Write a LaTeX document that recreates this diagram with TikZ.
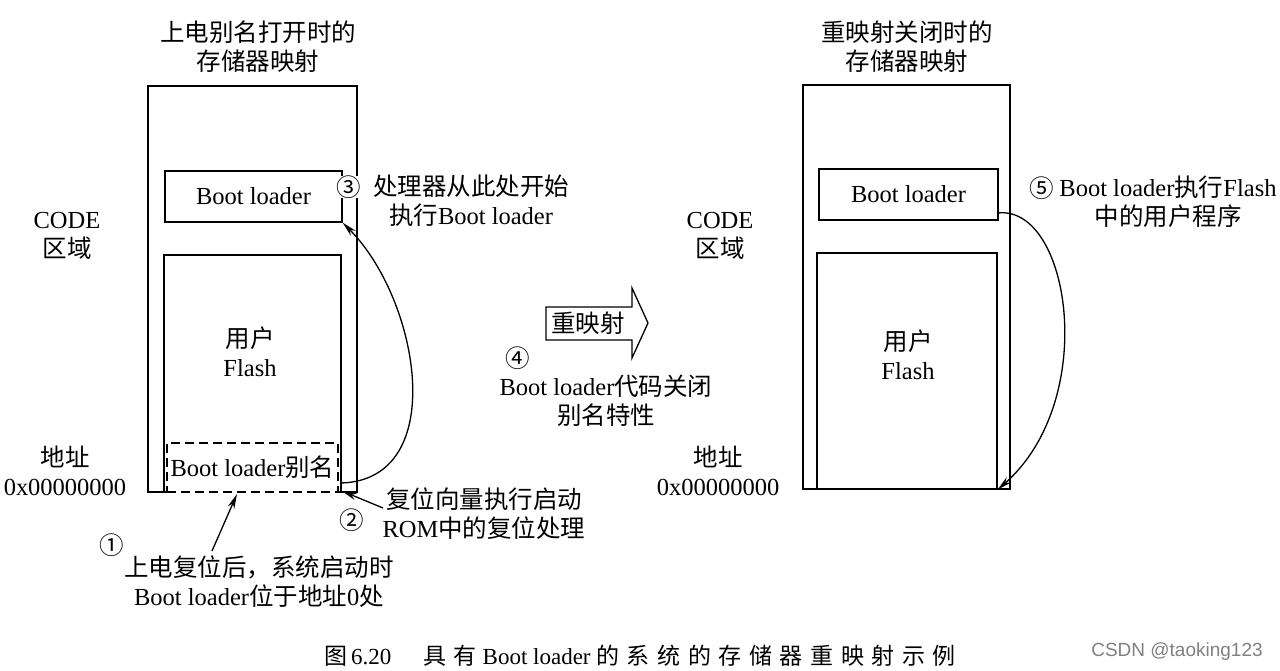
\documentclass[tikz,border=0pt]{standalone}
\usepackage{fontspec}
\setmainfont{Liberation Serif}
\newfontfamily\cjk{Noto Sans CJK SC}
\newfontfamily\capcjk[LetterSpace=33]{Noto Sans CJK SC}
\newfontfamily\wmfont{Liberation Sans}
\usetikzlibrary{arrows.meta}
\newcommand\zh[1]{{\cjk #1}}
\newcommand\capzh[1]{{\capcjk #1}}

\tikzset{
  lbl/.style={font=\fontsize{24.5}{29}\selectfont, align=center, inner sep=0pt},
  membox/.style={draw, line width=1.3pt, inner sep=0pt},
  arr/.style={-{Stealth[length=15pt,width=7pt]}, line width=1.3pt},
}

\begin{document}
\begin{tikzpicture}[x=1pt,y=-1pt,line width=1.3pt]
	\useasboundingbox (0,0) rectangle (1280,671);
	% left map: alias on
	\node[lbl] (titleL) at (258,47) {\zh{上电别名打开时的}\\\zh{存储器映射}};
	\draw (167,492) -- (148,492) -- (148,86) -- (357,86) -- (357,492) -- (338,492);
	\draw (164,492) -- (164,255) -- (341,255) -- (341,492);
	\node[lbl, membox, minimum width=177, minimum height=51] (bootL) at (253.5,196.5) {Boot loader};
	\node[lbl, membox, dash pattern=on 9pt off 5pt, minimum width=171, minimum height=49] (aliasL) at (252.5,467.5) {Boot loader\zh{别名}};
	\node[lbl] (userL) at (250,352) {\zh{用户}\\Flash};
	\node[lbl] (codeL) at (67,236) {CODE\\\zh{区域}};
	\node[lbl] (addrL) at (65,471) {\zh{地址}\\0x00000000};
	
	\node[lbl, fill=white] (n3) at (349,187) {\zh{③}};
	\node[lbl] (note3) at (471,201) {\zh{处理器从此处开始}\\\zh{执行}Boot loader};
	\node[lbl] (n2) at (352,520) {\zh{②}};
	\node[lbl] (note2) at (484,514) {\zh{复位向量执行启动}\\ROM\zh{中的复位处理}};
	\node[lbl] (n1) at (112,545) {\zh{①}};
	\node[lbl] (note1) at (259,582) {\zh{上电复位后，系统启动时}\\Boot loader\zh{位于地址}0\zh{处}};
	
	\coordinate (a1) at (212,551);
	\coordinate (a1end) at (237,494);
	\coordinate (a2) at (383,508);
	\coordinate (a2end) at (342,491);
	\coordinate (c3) at (341,483);
	\draw[arr] (a1) -- (a1end);
	\draw[arr] (a2) -- (a2end);
	\draw[arr] (c3) .. controls (450,480) and (420,300) .. (bootL.south east);
	
	% remap arrow
	\draw (546,307) -- (632,307) -- (632,288) -- (648,323) -- (632,358) -- (632,340) -- (546,340) -- cycle;
	\node[lbl] (remap) at (588,323) {\zh{重映射}};
	\node[lbl] (n4) at (518,358) {\zh{④}};
	\node[lbl] (note4) at (606,401) {Boot loader\zh{代码关闭}\\\zh{别名特性}};
	
	% right map: remap off
	\node[lbl] (titleR) at (907,47) {\zh{重映射关闭时的}\\\zh{存储器映射}};
	\draw (803,85) rectangle (1010,489);
	\node[lbl, membox, minimum width=179, minimum height=51] (bootR) at (908.5,194.5) {Boot loader};
	\node[membox, minimum width=180, minimum height=236] (flashR) at (907,371) {};
	\node[lbl] (userR) at (908,355) {\zh{用户}\\Flash};
	\node[lbl] (codeR) at (720,236) {CODE\\\zh{区域}};
	\node[lbl] (addrR) at (718,471) {\zh{地址}\\0x00000000};
	
	\node[lbl] (n5) at (1042,188) {\zh{⑤}};
	\node[lbl] (note5) at (1168,202) {Boot loader\zh{执行}Flash\\\zh{中的用户程序}};
	\coordinate (c5) at (998,213);
	\draw[arr] (c5) .. controls (1070,205) and (1100,400) .. (flashR.south east);
	
	\node[font=\fontsize{23}{26}\selectfont, inner sep=0pt] (caption) at (640,656) {\capzh{图}\hspace{4pt}6.20\hspace{32pt}\capzh{具有} Boot loader \capzh{的系统的存储器重映射示例}};
	\node[font=\wmfont\fontsize{19}{22}\selectfont, text=black!50, inner sep=0pt] (wm) at (1177,652) {CSDN @taoking123};
\end{tikzpicture}
\end{document}
